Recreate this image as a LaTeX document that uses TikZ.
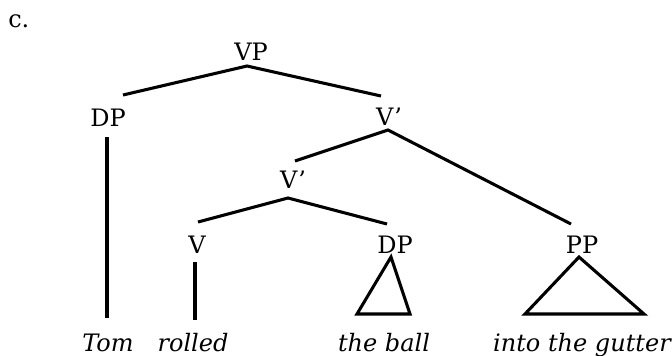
\documentclass[tikz,border=0pt]{standalone}
\usepackage{amsmath}
\usepackage{fontspec}
\setmainfont{DejaVu Serif}
\usepackage{tikz}
\usetikzlibrary{arrows}

\begin{document}
\begin{tikzpicture}[x=0.75pt, y=-0.75pt,
  every node/.style = {anchor=base, inner sep=0pt, font=\fontsize{18}{21}\selectfont},
  leaf/.style = {font=\fontsize{18}{21}\selectfont\itshape},
  branch/.style = {draw, line width=2.3pt}]
  \useasboundingbox (0,0) rectangle (672,355);
  \node[anchor=base west] (label) at (8,27) {c.};
  \node (vp) at (251,60) {VP};
  \node (subj) at (108,126) {DP};
  \node (vbarhi) at (389,125) {V'};
  \node (vbarlo) at (293,188) {V'};
  \node (verb) at (197,253) {V};
  \node (obj) at (395,253) {DP};
  \node (pp) at (582,253) {PP};
  \node[leaf] (tom) at (108,351) {Tom};
  \node[leaf] (rolled) at (193,351) {rolled};
  \node[leaf] (ball) at (384,351) {the ball};
  \node[leaf] (gutter) at (582,351) {into the gutter};
  \path [branch] ([shift={(15,-31)}]subj.base) -- ([shift={(-4,6)}]vp.base)
    -- ([shift={(-8,-29)}]vbarhi.base);
  \path [branch] ([shift={(2,-27)}]vbarlo.base) -- ([shift={(-1,5)}]vbarhi.base)
    -- ([shift={(-11,-29)}]pp.base);
  \path [branch] ([shift={(1,-31)}]verb.base) -- ([shift={(-5,10)}]vbarlo.base)
    -- ([shift={(-8,-29)}]obj.base);
  \path [branch] ([shift={(-1,11)}]subj.base) -- ([shift={(-1,-33)}]tom.base);
  \path [branch] ([shift={(-2,9)}]verb.base) -- ([shift={(2,-31)}]rolled.base);
  \path [branch] ([shift={(-4,4)}]obj.base) -- ([shift={(-27,-37)}]ball.base)
    -- ([shift={(26,-37)}]ball.base) -- cycle;
  \path [branch] ([shift={(-3,4)}]pp.base) -- ([shift={(-57,-37)}]gutter.base)
    -- ([shift={(62,-37)}]gutter.base) -- cycle;
\end{tikzpicture}
\end{document}
